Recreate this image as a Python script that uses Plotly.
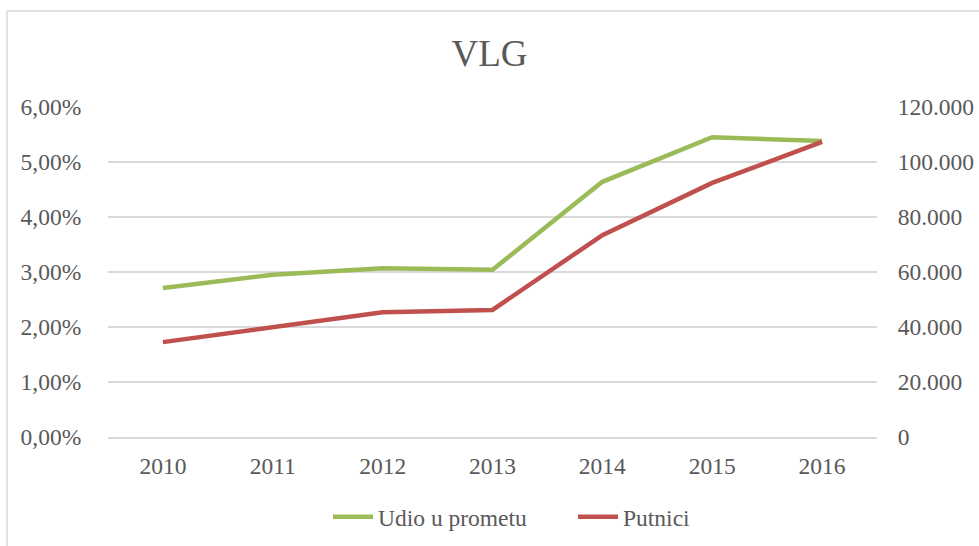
import plotly.graph_objects as go

years = ['2010', '2011', '2012', '2013', '2014', '2015', '2016']
udio_u_prometu = [0.0271, 0.0295, 0.0307, 0.0304, 0.0464, 0.0545, 0.0538]
putnici = [34500, 40000, 45400, 46200, 73400, 92400, 107300]

FONT = "Liberation Serif"
TXT = "#595959"
GRID = "#D9D9D9"
FS = 23.5

fig = go.Figure()
fig.add_trace(go.Scatter(x=years, y=udio_u_prometu, name="Udio u prometu", mode="lines",
                         line=dict(color="#9BBB59", width=4.5), yaxis="y"))
fig.add_trace(go.Scatter(x=years, y=putnici, name="Putnici", mode="lines",
                         line=dict(color="#C0504D", width=4.5), yaxis="y2"))

pw, ph = 877 - 108, 437 - 107
fig.add_shape(type="rect", xref="paper", yref="paper",
              x0=(7 - 108) / pw, x1=2, y0=-2, y1=(437 - 11) / ph,
              line=dict(color=GRID, width=1.5), fillcolor="rgba(0,0,0,0)", layer="below")

fig.update_layout(
    width=979, height=546,
    margin=dict(l=108, r=102, t=107, b=109, autoexpand=False),
    paper_bgcolor="white", plot_bgcolor="white",
    separators=",.",
    font=dict(family=FONT, size=FS, color=TXT),
    title=dict(text="VLG", x=0.5, xref="container", xanchor="center",
               y=1 - 53 / 546, yref="container", yanchor="middle",
               font=dict(family=FONT, size=37, color=TXT)),
    xaxis=dict(type="category", range=[-0.5, 6.5], showgrid=False, showline=True,
               linecolor=GRID, linewidth=1.5, ticks="outside", ticklen=7,
               tickcolor="rgba(0,0,0,0)", tickfont=dict(family=FONT, size=FS, color=TXT),
               automargin=False),
    yaxis=dict(range=[0, 0.06], dtick=0.01, tickformat=".2%", showgrid=True,
               gridcolor=GRID, gridwidth=1.5, zeroline=False, showline=False,
               ticks="outside", ticklen=21, tickcolor="rgba(0,0,0,0)",
               tickfont=dict(family=FONT, size=FS, color=TXT), automargin=False),
    yaxis2=dict(range=[0, 120000], dtick=20000, tickformat=",d", overlaying="y",
                side="right", showgrid=False, zeroline=False, showline=False,
                ticks="outside", ticklen=15, tickcolor="rgba(0,0,0,0)",
                tickfont=dict(family=FONT, size=FS, color=TXT), automargin=False),
    legend=dict(orientation="h", x=(573 - 108) / pw, xanchor="center",
                y=(437 - 517) / ph, yanchor="middle",
                font=dict(family=FONT, size=FS, color=TXT), itemwidth=40,
                entrywidth=190, bgcolor="rgba(0,0,0,0)"),
    showlegend=True,
)

fig.write_html("out.html", config={"displayModeBar": False},
               post_script="document.body.style.margin='0';document.body.style.overflow='hidden';")
